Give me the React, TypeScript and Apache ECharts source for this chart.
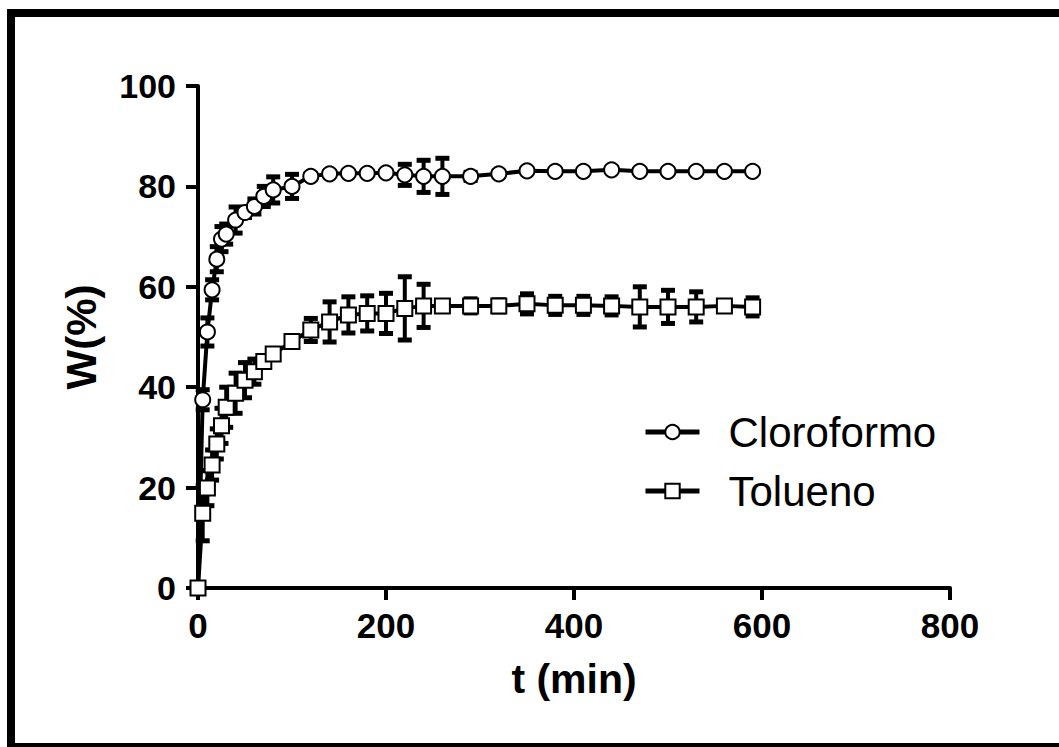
import React, { useEffect, useRef } from "react";
import * as echarts from "echarts";

const times = [0, 5, 10, 15, 20, 25, 30, 40, 50, 60, 70, 80, 100, 120, 140, 160, 180, 200, 220, 240, 260, 290, 320, 350, 380, 410, 440, 470, 500, 530, 560, 590];
const cloroformo = [0, 37.5, 51, 59.4, 65.5, 69.5, 70.5, 73.3, 74.8, 76, 78, 79.3, 80, 82, 82.5, 82.6, 82.6, 82.7, 82.3, 82, 82, 82, 82.5, 83.1, 83, 83, 83.3, 83, 83, 83, 83, 83];
const cloroformoErr = [0, 2, 2.8, 2, 2.5, 2.5, 2, 2.6, 1, 1.5, 2, 2.6, 2.4, 0.5, 0, 0, 0, 0, 2.1, 3.2, 3.6, 0.8, 0.5, 0, 0, 0, 0, 0, 0, 0, 0, 0];
const tolueno = [0, 14.9, 19.9, 24.5, 28.7, 32.3, 36, 38.8, 41.4, 43.1, 45.1, 46.6, 49.1, 51.4, 53, 54.4, 54.7, 54.7, 55.7, 56.2, 56.2, 56.2, 56.2, 56.6, 56.3, 56.3, 56.2, 56, 56, 56, 56.2, 56];
const toluenoErr = [0, 5.5, 3.5, 3, 3, 3.5, 4, 4, 3.5, 2.5, 1, 0.5, 0.5, 2.3, 4, 3.6, 3.5, 4, 6.3, 4.3, 1, 1.4, 1.2, 2, 1.8, 1.8, 1.8, 4, 3.3, 3, 0.5, 1.8];
const xTicks = { min: 0, max: 800, interval: 200 };
const yTicks = { min: 0, max: 100, interval: 20 };

const FONT = "'Liberation Sans', Arial, sans-serif";

function errData(vals: number[], errs: number[]) {
  return times.map((t, i) => [t, vals[i] - errs[i], vals[i] + errs[i]]);
}

function renderErr(params: any, api: any) {
  const x = api.value(0);
  const lo = api.value(1);
  const hi = api.value(2);
  if (hi - lo < 0.01) return { type: "group", children: [] };
  const p1 = api.coord([x, hi]);
  const p2 = api.coord([x, lo]);
  const w = 7;
  return {
    type: "group",
    children: [
      { type: "line", shape: { x1: p1[0], y1: p1[1], x2: p2[0], y2: p2[1] }, style: { stroke: "#000", lineWidth: 4 } },
      { type: "line", shape: { x1: p1[0] - w, y1: p1[1], x2: p1[0] + w, y2: p1[1] }, style: { stroke: "#000", lineWidth: 5 } },
      { type: "line", shape: { x1: p2[0] - w, y1: p2[1], x2: p2[0] + w, y2: p2[1] }, style: { stroke: "#000", lineWidth: 5 } },
    ],
  };
}

export default function App() {
  const ref = useRef<HTMLDivElement>(null);
  useEffect(() => {
    if (!ref.current) return;
    const chart = echarts.init(ref.current, null, { renderer: "svg" });
    const lineSeries = (name: string, vals: number[], symbol: string) => ({
      name,
      type: "line",
      data: times.map((t, i) => [t, vals[i]]),
      symbol,
      symbolSize: 15,
      showAllSymbol: true,
      lineStyle: { color: "#000", width: 4 },
      itemStyle: { color: "#fff", borderColor: "#000", borderWidth: 2 },
      z: 5,
    });
    chart.setOption({
      animation: false,
      backgroundColor: "#fff",
      textStyle: { fontFamily: FONT },
      grid: { left: 198, top: 86, width: 752, height: 502, containLabel: false },
      xAxis: {
        type: "value",
        min: xTicks.min,
        max: xTicks.max,
        interval: xTicks.interval,
        name: "t (min)",
        nameLocation: "middle",
        nameGap: 70,
        nameTextStyle: { fontFamily: FONT, fontWeight: "bold", fontSize: 41, color: "#000" },
        axisLine: { lineStyle: { color: "#000", width: 4 } },
        axisTick: { length: 12, lineStyle: { color: "#000", width: 4 } },
        axisLabel: { fontFamily: FONT, fontWeight: "bold", fontSize: 35, color: "#000", margin: 20 },
        splitLine: { show: false },
      },
      yAxis: {
        type: "value",
        min: yTicks.min,
        max: yTicks.max,
        interval: yTicks.interval,
        name: "W(%)",
        nameLocation: "middle",
        nameRotate: 90,
        nameGap: 96,
        nameTextStyle: { fontFamily: FONT, fontWeight: "bold", fontSize: 42, color: "#000" },
        axisLine: { lineStyle: { color: "#000", width: 4 } },
        axisTick: { length: 12, lineStyle: { color: "#000", width: 4 } },
        axisLabel: { fontFamily: FONT, fontWeight: "bold", fontSize: 34, color: "#000", margin: 22 },
        splitLine: { show: false },
      },
      legend: {
        orient: "vertical",
        left: 643,
        top: 411,
        padding: 0,
        itemWidth: 54,
        itemHeight: 18,
        itemGap: 17,
        data: ["Cloroformo", "Tolueno"],
        lineStyle: { color: "#000", width: 5 },
        itemStyle: { color: "#fff", borderColor: "#000", borderWidth: 2 },
        textStyle: { fontFamily: FONT, fontSize: 42, lineHeight: 42, color: "#000", padding: [0, 0, 0, 24] },
      },
      graphic: [
        {
          type: "rect",
          shape: { x: 11, y: 13, width: 1100, height: 734 },
          style: { fill: "none", stroke: "#000", lineWidth: 8 },
          silent: true,
        },
      ],
      series: [
        {
          type: "custom",
          renderItem: renderErr,
          data: errData(cloroformo, cloroformoErr),
          encode: { x: 0, y: [1, 2] },
          z: 3,
          silent: true,
        },
        {
          type: "custom",
          renderItem: renderErr,
          data: errData(tolueno, toluenoErr),
          encode: { x: 0, y: [1, 2] },
          z: 3,
          silent: true,
        },
        lineSeries("Cloroformo", cloroformo, "circle"),
        lineSeries("Tolueno", tolueno, "rect"),
      ],
    });
    return () => chart.dispose();
  }, []);
  return <div ref={ref} style={{ position: "absolute", left: 0, top: 0, width: 1059, height: 747 }} />;
}
